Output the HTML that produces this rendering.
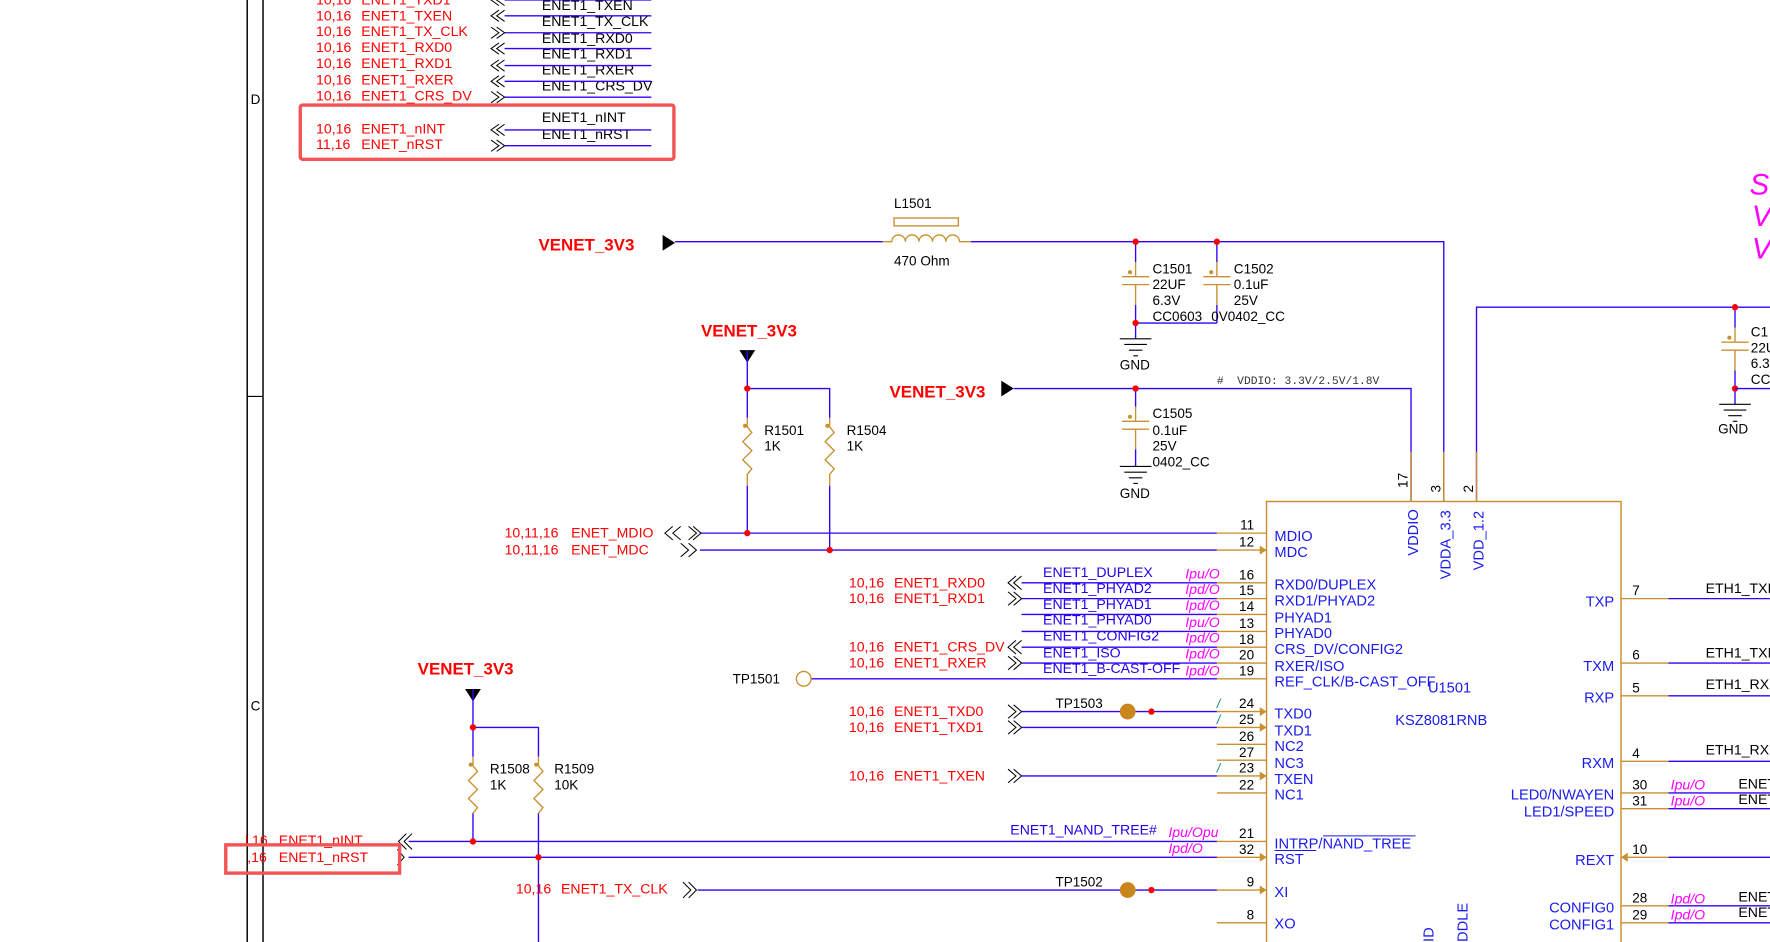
<!DOCTYPE html>
<html><head><meta charset="utf-8"><style>
html,body{margin:0;padding:0;background:#fff;overflow:hidden}
svg{display:block}
text{font-family:"Liberation Sans",sans-serif;white-space:pre}
.r{fill:#f00;font-size:12.5px}
.k{fill:#000;font-size:12.5px}
.b{fill:#2200ee;font-size:12.5px}
.p{fill:#ff00ff;font-size:12.5px;font-style:italic}
.c{fill:#1a1aee;font-size:13px}
.n{fill:#000;font-size:12px}
.pw{fill:#f00;font-size:15px;font-weight:bold}
.bl{stroke:#3300ff;stroke-width:1.2;fill:none}
.tn{stroke:#c8902e;stroke-width:1.2;fill:none}
.ch{stroke:#000;stroke-width:0.9;fill:none}
.dot{fill:#f00}
.mono{font-family:"Liberation Mono",monospace;font-size:10px;fill:#333}
</style></head><body>
<svg width="1770" height="942" viewBox="0 0 1568 834" preserveAspectRatio="none" xmlns="http://www.w3.org/2000/svg">
<line x1="219" y1="0" x2="219" y2="834" stroke="#000" stroke-width="1.3"/>
<line x1="233" y1="0" x2="233" y2="834" stroke="#000" stroke-width="1.3"/>
<line x1="219" y1="351" x2="233" y2="351" stroke="#000" stroke-width="1"/>
<text x="222" y="92" class="n" font-size="11">D</text>
<text x="222" y="629" class="n" font-size="11">C</text>

<g class="r">
<text x="280" y="4">10,16</text><text x="320" y="4">ENET1_TXD1</text>
<text x="280" y="18">10,16</text><text x="320" y="18">ENET1_TXEN</text>
<text x="280" y="32">10,16</text><text x="320" y="32">ENET1_TX_CLK</text>
<text x="280" y="46">10,16</text><text x="320" y="46">ENET1_RXD0</text>
<text x="280" y="60">10,16</text><text x="320" y="60">ENET1_RXD1</text>
<text x="280" y="75">10,16</text><text x="320" y="75">ENET1_RXER</text>
<text x="280" y="89">10,16</text><text x="320" y="89">ENET1_CRS_DV</text>
<text x="280" y="118">10,16</text><text x="320" y="118">ENET1_nINT</text>
<text x="280" y="132">11,16</text><text x="320" y="132">ENET_nRST</text>
</g>
<g class="k">
<text x="480" y="9">ENET1_TXEN</text>
<text x="480" y="23">ENET1_TX_CLK</text>
<text x="480" y="38">ENET1_RXD0</text>
<text x="480" y="52">ENET1_RXD1</text>
<text x="480" y="66">ENET1_RXER</text>
<text x="480" y="80">ENET1_CRS_DV</text>
<text x="480" y="108">ENET1_nINT</text>
<text x="480" y="123">ENET1_nRST</text>
</g>
<path class="bl" d="M447,0H577M447,14H577M447,29H577M447,43H577M447,58H577M447,72H577M447,86H577M447,115H577M447,129H577"/>
<path class="ch" d="M442,-5l-7,5l7,5M447,-5l-7,5l7,5 M442,9l-7,5l7,5M447,9l-7,5l7,5 M435,24l7,5l-7,5M440,24l7,5l-7,5 M442,38l-7,5l7,5M447,38l-7,5l7,5 M442,53l-7,5l7,5M447,53l-7,5l7,5 M442,67l-7,5l7,5M447,67l-7,5l7,5 M435,81l7,5l-7,5M440,81l7,5l-7,5 M442,110l-7,5l7,5M447,110l-7,5l7,5 M435,124l7,5l-7,5M440,124l7,5l-7,5"/>
<rect x="266" y="93" width="331" height="48" rx="2" fill="none" stroke="#f25555" stroke-width="3"/>

<text x="477" y="222" class="pw">VENET_3V3</text>
<polygon points="587,208 598,215 587,222" fill="#000"/>
<path class="bl" d="M598,214H782M860,214H1279V444"/>
<path class="tn" d="M782,214H790 a6,6 0 0 1 12,0 a6,6 0 0 1 12,0 a6,6 0 0 1 12,0 a6,6 0 0 1 12,0 a6,6 0 0 1 12,0 H860"/>
<rect x="792" y="193" width="57" height="7" fill="none" stroke="#c8902e" stroke-width="1.2"/>
<text x="792" y="184" class="n">L1501</text>
<text x="792" y="235" class="n">470 Ohm</text>
<path class="bl" d="M1006,214V232M1078,214V232M1006,270V300M1078,270V286M1006,286H1078"/>
<path class="tn" d="M1006,232V245M994,245H1018M994,252H1018M1006,252V270M1078,232V245M1066,245H1090M1066,252H1090M1078,252V270"/>
<circle cx="1001" cy="241" r="1.8" fill="#c8902e"/><circle cx="1073" cy="241" r="1.8" fill="#c8902e"/>
<circle cx="1006" cy="214" r="2.8" class="dot"/><circle cx="1078" cy="214" r="2.8" class="dot"/><circle cx="1006" cy="286" r="2.8" class="dot"/>
<path stroke="#000" stroke-width="1" d="M992,300H1020M996,305H1016M1000,310H1012M1004,315H1008"/>
<text x="992" y="327" class="n">GND</text>
<text x="1021" y="242" class="n">C1501</text><text x="1021" y="256" class="n">22UF</text><text x="1021" y="270" class="n">6.3V</text><text x="1021" y="284" class="n">CC0603</text>
<text x="1093" y="242" class="n">C1502</text><text x="1093" y="256" class="n">0.1uF</text><text x="1093" y="270" class="n">25V</text><text x="1073" y="284" class="n">0V0402_CC</text>

<path class="bl" d="M1308,444V272H1568M1537,272V290M1537,328V358"/>
<path class="tn" d="M1537,290V303M1525,303H1549M1525,310H1549M1537,310V328"/>
<circle cx="1532" cy="299" r="1.8" fill="#c8902e"/>
<circle cx="1537" cy="272" r="2.8" class="dot"/><circle cx="1537" cy="344" r="2.8" class="dot"/>
<path class="bl" d="M1537,344H1568"/>
<path stroke="#000" stroke-width="1" d="M1523,358H1551M1527,363H1547M1531,368H1543M1535,373H1539"/>
<text x="1522" y="384" class="n">GND</text>
<text x="1551" y="298" class="n">C1</text><text x="1551" y="312" class="n">22U</text><text x="1551" y="326" class="n">6.3</text><text x="1551" y="340" class="n">CC</text>
<text x="1550" y="172" fill="#ff00ff" font-size="26" font-style="italic">S</text>
<text x="1552" y="200" fill="#ff00ff" font-size="26" font-style="italic">V</text>
<text x="1552" y="229" fill="#ff00ff" font-size="26" font-style="italic">V</text>

<text x="788" y="352" class="pw">VENET_3V3</text>
<polygon points="887,337 898,344 887,351" fill="#000"/>
<path class="bl" d="M898,344H1250V444M1006,344V360M1006,398V413"/>
<path class="tn" d="M1006,360V373M994,373H1018M994,380H1018M1006,380V398"/>
<circle cx="1001" cy="369" r="1.8" fill="#c8902e"/>
<circle cx="1006" cy="344" r="2.8" class="dot"/>
<path stroke="#000" stroke-width="1" d="M992,413H1020M996,418H1016M1000,423H1012M1004,428H1008"/>
<text x="992" y="441" class="n">GND</text>
<text x="1021" y="370" class="n">C1505</text><text x="1021" y="385" class="n">0.1uF</text><text x="1021" y="399" class="n">25V</text><text x="1021" y="413" class="n">0402_CC</text>
<text x="1078" y="340" class="mono">#  VDDIO: 3.3V/2.5V/1.8V</text>

<text x="621" y="298" class="pw">VENET_3V3</text>
<polygon points="655,310 669,310 662,321" fill="#000"/>
<path class="bl" d="M662,310V370M662,430V472M662,344H735V370M735,430V487"/>
<path class="tn" d="M662,370V378l4,5l-8,8l8,8l-8,8l8,8l-4,5V430M735,370V378l4,5l-8,8l8,8l-8,8l8,8l-4,5V430"/>
<circle cx="660" cy="377" r="1.8" fill="#c8902e"/><circle cx="733" cy="377" r="1.8" fill="#c8902e"/>
<circle cx="662" cy="344" r="2.8" class="dot"/>
<text x="677" y="385" class="n">R1501</text><text x="677" y="399" class="n">1K</text>
<text x="750" y="385" class="n">R1504</text><text x="750" y="399" class="n">1K</text>
<path class="bl" d="M620,472H1078M620,487H1078"/>
<circle cx="662" cy="472" r="2.8" class="dot"/><circle cx="735" cy="487" r="2.8" class="dot"/>
<text x="447" y="476" class="r">10,11,16</text><text x="506" y="476" class="r">ENET_MDIO</text>
<text x="447" y="491" class="r">10,11,16</text><text x="506" y="491" class="r">ENET_MDC</text>
<path class="ch" d="M596,466l-7,6l7,6M603,466l-7,6l7,6M610,466l7,6l-7,6M614,466l7,6l-7,6 M603,481l7,6l-7,6M610,481l7,6l-7,6"/>

<rect x="1122" y="444" width="314" height="420" fill="none" stroke="#c8902e" stroke-width="1.3"/>
<path class="tn" d="M1250,400V444M1279,400V444M1308,400V444"/>
<text transform="translate(1247,432) rotate(-90)" class="n">17</text>
<text transform="translate(1276,436) rotate(-90)" class="n">3</text>
<text transform="translate(1305,436) rotate(-90)" class="n">2</text>
<text transform="translate(1256,492) rotate(-90)" class="c">VDDIO</text>
<text transform="translate(1285,513) rotate(-90)" class="c">VDDA_3.3</text>
<text transform="translate(1314,505) rotate(-90)" class="c">VDD_1.2</text>
<text transform="translate(1270,834) rotate(-90)" class="c">ID</text>
<text transform="translate(1300,834) rotate(-90)" class="c">DDLE</text>
<text x="1265" y="613" class="c">U1501</text>
<text x="1236" y="642" class="c">KSZ8081RNB</text>

<path class="tn" d="M1078,472H1122M1078,487H1122M1078,516H1122M1078,530H1122M1078,544H1122M1078,559H1122M1078,573H1122M1078,587H1122M1078,601H1122M1078,630H1122M1078,644H1122M1078,659H1122M1078,673H1122M1078,687H1122M1078,702H1122M1078,745H1122M1078,759H1122M1078,788H1122M1078,817H1122"/>
<g fill="#c8902e"><polygon points="1116,483 1122,487 1116,491"/><polygon points="1116,626 1122,630 1116,634"/><polygon points="1116,640 1122,644 1116,648"/><polygon points="1116,683 1122,687 1116,691"/><polygon points="1116,755 1122,759 1116,763"/><polygon points="1116,784 1122,788 1116,792"/><polygon points="1436,759 1442,755 1442,763"/></g>
<g class="n" text-anchor="end">
<text x="1111" y="469">11</text><text x="1111" y="484">12</text><text x="1111" y="513">16</text><text x="1111" y="527">15</text><text x="1111" y="541">14</text><text x="1111" y="556">13</text><text x="1111" y="570">18</text><text x="1111" y="584">20</text><text x="1111" y="598">19</text><text x="1111" y="627">24</text><text x="1111" y="641">25</text><text x="1111" y="656">26</text><text x="1111" y="670">27</text><text x="1111" y="684">23</text><text x="1111" y="699">22</text><text x="1111" y="742">21</text><text x="1111" y="756">32</text><text x="1111" y="785">9</text><text x="1111" y="814">8</text>
</g>
<g class="c">
<text x="1129" y="479">MDIO</text><text x="1129" y="493">MDC</text><text x="1129" y="522">RXD0/DUPLEX</text><text x="1129" y="536">RXD1/PHYAD2</text><text x="1129" y="551">PHYAD1</text><text x="1129" y="565">PHYAD0</text><text x="1129" y="579">CRS_DV/CONFIG2</text><text x="1129" y="594">RXER/ISO</text><text x="1129" y="608">REF_CLK/B-CAST_OFF</text><text x="1129" y="636">TXD0</text><text x="1129" y="651">TXD1</text><text x="1129" y="665">NC2</text><text x="1129" y="680">NC3</text><text x="1129" y="694">TXEN</text><text x="1129" y="708">NC1</text><text x="1129" y="751">INTRP/NAND_TREE</text><text x="1129" y="765">RST</text><text x="1129" y="794">XI</text><text x="1129" y="822">XO</text>
</g>
<path stroke="#1a1aee" stroke-width="0.9" d="M1172,740H1254M1129,753H1166"/>
<path class="tn" d="M1436,530H1478M1436,587H1478M1436,616H1478M1436,674H1478M1436,702H1478M1436,716H1478M1436,759H1478M1436,802H1478M1436,817H1478"/>
<path class="bl" d="M1478,530H1568M1478,587H1568M1478,616H1568M1478,674H1568M1478,702H1568M1478,716H1568M1478,759H1568M1478,802H1568M1478,817H1568"/>
<g class="n"><text x="1446" y="527">7</text><text x="1446" y="584">6</text><text x="1446" y="613">5</text><text x="1446" y="671">4</text><text x="1446" y="699">30</text><text x="1446" y="713">31</text><text x="1446" y="756">10</text><text x="1446" y="799">28</text><text x="1446" y="814">29</text></g>
<g class="c" text-anchor="end"><text x="1430" y="537">TXP</text><text x="1430" y="594">TXM</text><text x="1430" y="622">RXP</text><text x="1430" y="680">RXM</text><text x="1430" y="708">LED0/NWAYEN</text><text x="1430" y="723">LED1/SPEED</text><text x="1430" y="766">REXT</text><text x="1430" y="808">CONFIG0</text><text x="1430" y="823">CONFIG1</text></g>
<g class="k"><text x="1511" y="525">ETH1_TXP</text><text x="1511" y="582">ETH1_TXM</text><text x="1511" y="610">ETH1_RXP</text><text x="1511" y="668">ETH1_RXM</text><text x="1540" y="698">ENET</text><text x="1540" y="712">ENET</text><text x="1540" y="798">ENET</text><text x="1540" y="812">ENET</text></g>
<g class="p"><text x="1480" y="699">Ipu/O</text><text x="1480" y="713">Ipu/O</text><text x="1480" y="800">Ipd/O</text><text x="1480" y="814">Ipd/O</text></g>

<path class="bl" d="M905,516H1078M905,530H1078M905,544H1078M905,559H1078M905,573H1078M905,587H1078M905,601H1078"/>
<g class="b" font-size="12"><text x="924" y="511">ENET1_DUPLEX</text><text x="924" y="525">ENET1_PHYAD2</text><text x="924" y="539">ENET1_PHYAD1</text><text x="924" y="553">ENET1_PHYAD0</text><text x="924" y="567">ENET1_CONFIG2</text><text x="924" y="582">ENET1_ISO</text><text x="924" y="596">ENET1_B-CAST-OFF</text></g>
<g class="p" font-size="12"><text x="1050" y="512">Ipu/O</text><text x="1050" y="526">Ipd/O</text><text x="1050" y="540">Ipd/O</text><text x="1050" y="555">Ipu/O</text><text x="1050" y="569">Ipd/O</text><text x="1050" y="583">Ipd/O</text><text x="1050" y="598">Ipd/O</text></g>
<g class="r"><text x="752" y="520">10,16</text><text x="792" y="520">ENET1_RXD0</text><text x="752" y="534">10,16</text><text x="792" y="534">ENET1_RXD1</text><text x="752" y="577">10,16</text><text x="792" y="577">ENET1_CRS_DV</text><text x="752" y="591">10,16</text><text x="792" y="591">ENET1_RXER</text></g>
<path class="ch" d="M900,510l-7,6l7,6M905,510l-7,6l7,6 M893,524l7,6l-7,6M898,524l7,6l-7,6 M900,567l-7,6l7,6M905,567l-7,6l7,6 M893,581l7,6l-7,6M898,581l7,6l-7,6"/>
<text x="649" y="605" class="n">TP1501</text>
<circle cx="712" cy="601" r="6.5" fill="none" stroke="#c8902e" stroke-width="1.2"/>
<path class="bl" d="M719,601H905"/>

<g class="r"><text x="752" y="634">10,16</text><text x="792" y="634">ENET1_TXD0</text><text x="752" y="648">10,16</text><text x="792" y="648">ENET1_TXD1</text><text x="752" y="691">10,16</text><text x="792" y="691">ENET1_TXEN</text></g>
<path class="ch" d="M893,624l7,6l-7,6M898,624l7,6l-7,6 M893,638l7,6l-7,6M898,638l7,6l-7,6 M893,681l7,6l-7,6M898,681l7,6l-7,6"/>
<path class="bl" d="M905,630H1078M905,644H1078M905,687H1078"/>
<text x="935" y="627" class="n">TP1503</text>
<circle cx="999" cy="630" r="7" fill="#c8861c"/><circle cx="1020" cy="630" r="2.8" class="dot"/>
<g fill="#008877" font-size="11" font-style="italic"><text x="1078" y="627">/</text><text x="1078" y="641">/</text><text x="1078" y="684">/</text></g>

<text x="370" y="597" class="pw">VENET_3V3</text>
<polygon points="412,610 426,610 419,621" fill="#000"/>
<path class="bl" d="M419,610V670M419,720V745M419,644H477V670M477,720V834"/>
<path class="tn" d="M419,670V678l4,5l-8,8l8,8l-8,8l8,8l-4,5V720M477,670V678l4,5l-8,8l8,8l-8,8l8,8l-4,5V720"/>
<circle cx="417" cy="677" r="1.8" fill="#c8902e"/><circle cx="475" cy="677" r="1.8" fill="#c8902e"/>
<circle cx="419" cy="644" r="2.8" class="dot"/>
<text x="434" y="685" class="n">R1508</text><text x="434" y="699" class="n">1K</text>
<text x="491" y="685" class="n">R1509</text><text x="491" y="699" class="n">10K</text>
<path class="bl" d="M362,745H1078M362,759H1078"/>
<circle cx="419" cy="745" r="2.8" class="dot"/><circle cx="477" cy="759" r="2.8" class="dot"/>
<text x="217" y="748" class="r">l,16</text><text x="247" y="748" class="r">ENET1_nINT</text>
<text x="219" y="763" class="r">,16</text><text x="247" y="763" class="r">ENET1_nRST</text>
<path class="ch" d="M360,738l-7,7l7,7M365,738l-7,7l7,7 M352,752l6,7l-6,7"/>
<rect x="200" y="748" width="154" height="25" fill="none" stroke="#f25555" stroke-width="3"/>
<text x="895" y="739" class="b">ENET1_NAND_TREE#</text>
<text x="1035" y="741" class="p">Ipu/Opu</text><text x="1035" y="755" class="p">Ipd/O</text>
<text x="457" y="791" class="r">10,16</text><text x="497" y="791" class="r">ENET1_TX_CLK</text>
<path class="ch" d="M605,781l7,7l-7,7M610,781l7,7l-7,7"/>
<path class="bl" d="M618,788H1078"/>
<text x="935" y="785" class="n">TP1502</text>
<circle cx="999" cy="788" r="7" fill="#c8861c"/><circle cx="1020" cy="788" r="2.8" class="dot"/>
</svg>
</body></html>
